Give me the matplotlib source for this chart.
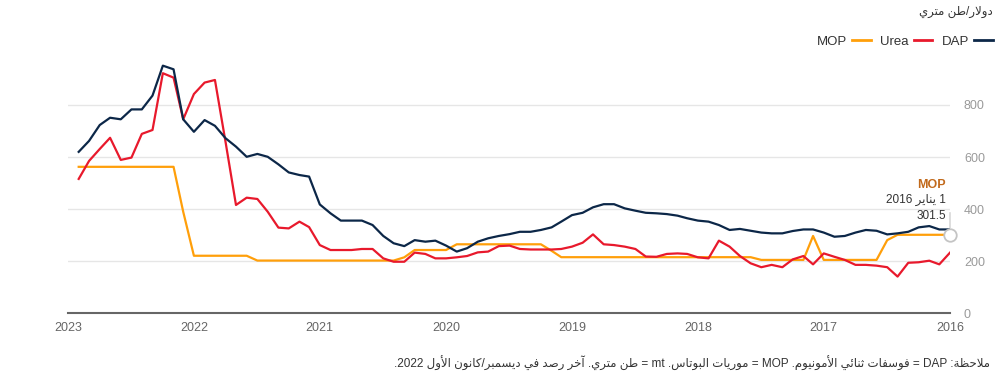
import re
import matplotlib
matplotlib.use('Agg')
import matplotlib.pyplot as plt
from matplotlib.lines import Line2D
import pandas as pd

plt.rcParams['font.family'] = ['Liberation Sans', 'DejaVu Sans']

# monthly prices, USD per metric ton, Jan 2016 .. Dec 2022
months = pd.date_range('2016-01-01', '2022-12-01', freq='MS').to_pydatetime()

dap = [
    322, 322, 335, 330, 313, 307, 303, 317, 320, 310, 297, 294,  # 2016
    310, 322, 322, 316, 307, 307, 310, 317, 324, 320, 339, 352,  # 2017
    356, 365, 375, 381, 384, 386, 394, 403, 419, 419, 407, 386,  # 2018
    377, 352, 330, 320, 313, 313, 304, 297, 288, 275, 250, 237,  # 2019
    260, 279, 275, 281, 258, 269, 297, 339, 356, 356, 356, 384,  # 2020
    418, 525, 531, 541, 572, 601, 612, 601, 640, 672, 720, 742,  # 2021
    697, 745, 937, 951, 836, 783, 783, 745, 751, 723, 662, 620,  # 2022
]
urea = [
    233, 188, 202, 196, 194, 141, 177, 183, 186, 186, 205, 217,
    230, 188, 220, 207, 177, 186, 177, 192, 220, 256, 279, 211,
    215, 228, 230, 228, 217, 218, 247, 256, 262, 265, 303, 271,
    256, 247, 245, 245, 245, 247, 260, 258, 237, 234, 220, 215,
    211, 211, 228, 233, 198, 198, 211, 247, 247, 243, 243, 243,
    262, 331, 352, 326, 329, 390, 439, 444, 416, 656, 896, 886,
    842, 745, 905, 922, 704, 689, 598, 589, 674, 631, 585, 516,
]
mop = [
    301.5, 301.5, 301.5, 301.5, 301.5, 301.5, 281, 205, 205, 205, 205, 205,
    205, 297, 205, 205, 205, 205, 205, 215.5, 215.5, 215.5, 215.5, 215.5,
    215.5, 215.5, 215.5, 215.5, 215.5, 215.5, 215.5, 215.5, 215.5, 215.5, 215.5, 215.5,
    215.5, 215.5, 240, 265, 265, 265, 265, 265, 265, 265, 265, 265,
    243, 243, 243, 243, 215, 202.5, 202.5, 202.5, 202.5, 202.5, 202.5, 202.5,
    202.5, 202.5, 202.5, 202.5, 202.5, 202.5, 202.5, 221, 221, 221, 221, 221,
    221, 390, 562.5, 562.5, 562.5, 562.5, 562.5, 562.5, 562.5, 562.5, 562.5, 562.5,
]

series = ['MOP', 'Urea', 'DAP']
colors = {'DAP': '#0c2748', 'Urea': '#e8192c', 'MOP': '#ff9f0a'}
years = [2016, 2017, 2018, 2019, 2020, 2021, 2022, 2023]
y_ticks = [0, 200, 400, 600, 800]

unit_label = 'دولار/طن متري'
tip_date = '1 يناير 2016'
note = ('ملاحظة: DAP = فوسفات ثنائي الأمونيوم. MOP = موريات البوتاس. '
        'mt = طن متري. آخر رصد في ديسمبر/كانون الأول 2022.')

# --- minimal arabic shaping (presentation forms) + visual reordering ---
_letters = 'ءآأؤإئابةتثجحخدذرزسشصضطظعغفقكلمنهوىي'
_nforms = [1, 2, 2, 2, 2, 4, 2, 4, 2, 4, 4, 4, 4, 4, 2, 2, 2, 2, 4, 4, 4, 4,
           4, 4, 4, 4, 4, 4, 4, 4, 4, 4, 4, 2, 2, 4]
FORMS = {}
_b = 0xFE80
for _c, _n in zip(_letters, _nforms):
    FORMS[_c] = (_b, _n)
    _b += _n
LAMALEF = {'ا': 0xFEFB, 'أ': 0xFEF7, 'آ': 0xFEF5, 'إ': 0xFEF9}


def shape(s):
    out, i, prev = [], 0, False
    while i < len(s):
        c = s[i]
        if c == 'ل' and i + 1 < len(s) and s[i + 1] in LAMALEF:
            out.append(chr(LAMALEF[s[i + 1]] + (1 if prev else 0)))
            prev = False
            i += 2
            continue
        if c in FORMS:
            base, n = FORMS[c]
            nxt = s[i + 1] if i + 1 < len(s) else ''
            joins = n == 4 and nxt in FORMS
            off = 0
            if n > 1:
                off = 3 if (prev and joins) else 1 if prev else 2 if joins else 0
            out.append(chr(base + off))
            prev = n == 4
        else:
            out.append(c)
            prev = False
        i += 1
    return ''.join(out)


def rtl(s):
    s = shape(s)[::-1]
    return re.sub(r'[A-Za-z0-9]+', lambda m: m.group(0)[::-1], s)


fig = plt.figure(figsize=(9.96, 3.78), dpi=100)
ax = fig.add_axes([68 / 996, 1 - 313.3 / 378, 882 / 996, 260.4 / 378])

data = {'DAP': dap, 'Urea': urea, 'MOP': mop}
for name in ['MOP', 'Urea', 'DAP']:
    ax.plot(months, data[name], color=colors[name], lw=1.6, zorder=3)

ax.set_xlim(pd.Timestamp('2023-01-01').to_pydatetime(), pd.Timestamp('2016-01-01').to_pydatetime())
ax.set_ylim(0, 1000)
ax.set_xticks([pd.Timestamp(f'{y}-01-01').to_pydatetime() for y in years])
ax.set_xticklabels([str(y) for y in years])
ax.set_yticks(y_ticks)
ax.yaxis.tick_right()
ax.tick_params(axis='y', length=0, pad=10, labelcolor='#9a9a9a', labelsize=9)
ax.tick_params(axis='x', length=0, pad=6, labelcolor='#666666', labelsize=9)
ax.grid(axis='y', color='#e6e6e6', lw=1.0)
ax.set_axisbelow(True)
for side in ['top', 'left', 'right']:
    ax.spines[side].set_visible(False)
ax.spines['bottom'].set_color('#666666')
ax.spines['bottom'].set_linewidth(1.5)

# tooltip on the first MOP point
ax.plot(months[0], mop[0], 'o', ms=9, mfc='white', mec='#c4c4c4', mew=1.3,
        zorder=4, clip_on=False)
ax.annotate('', xy=(months[0], mop[0]), xytext=(0, 16), textcoords='offset points',
            arrowprops=dict(arrowstyle='-', color='#c4c4c4', lw=0.8, shrinkA=0, shrinkB=5))
ax.annotate('MOP', xy=(months[0], mop[0]), xytext=(-3, 36), textcoords='offset points',
            ha='right', va='center', fontsize=9, fontweight='bold', color='#c26a1c')
ax.annotate(rtl(tip_date), xy=(months[0], mop[0]), xytext=(-3, 25), textcoords='offset points',
            ha='right', va='center', fontsize=8.5, color='#333333')
ax.annotate('301.5', xy=(months[0], mop[0]), xytext=(-3, 13.5), textcoords='offset points',
            ha='right', va='center', fontsize=8.5, color='#333333')

handles = [Line2D([], [], color=colors[n], lw=2) for n in series]
leg = fig.legend(handles, series, ncol=3, markerfirst=False, loc='center right',
                 bbox_to_anchor=(0.998, 1 - 42 / 378), frameon=False, fontsize=9.5,
                 handlelength=1.4, handletextpad=0.4, columnspacing=0.7,
                 borderaxespad=0, borderpad=0.1)
for t in leg.get_texts():
    t.set_color('#333333')

fig.text(993 / 996, 1 - 12 / 378, rtl(unit_label), ha='right', va='center',
         fontsize=8.5, color='#333333')
fig.text(990 / 996, 1 - 363 / 378, rtl(note), ha='right', va='center',
         fontsize=8.5, color='#333333')

fig.savefig('out.png', dpi=100)
